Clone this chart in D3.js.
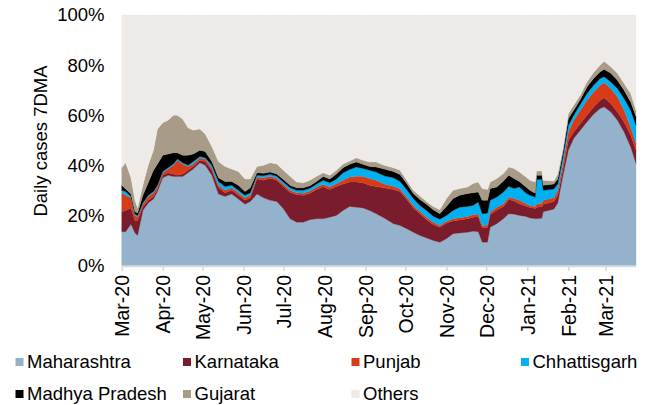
<!DOCTYPE html>
<html>
<head>
<meta charset="utf-8">
<script src="https://cdn.jsdelivr.net/npm/d3@7"></script>
<style>
    body { margin: 0; background: #fff; }
    text { font-family: "Liberation Sans", Arial, sans-serif; fill: #000; }
</style>
</head>
<body>
<svg id="chart" width="657" height="405"></svg>
<script>
// share of daily cases (7DMA), % of India total
let dates = ['2020-03-01', '2020-03-04', '2020-03-08', '2020-03-11', '2020-03-13', '2020-03-17', '2020-03-21', '2020-03-25',
    '2020-03-28', '2020-04-01', '2020-04-05', '2020-04-09', '2020-04-12', '2020-04-16', '2020-04-20', '2020-04-24',
    '2020-04-29', '2020-05-03', '2020-05-08', '2020-05-13', '2020-05-18', '2020-05-23', '2020-05-28', '2020-06-02',
    '2020-06-06', '2020-06-11', '2020-06-16', '2020-06-21', '2020-06-26', '2020-07-01', '2020-07-06', '2020-07-11',
    '2020-07-16', '2020-07-21', '2020-07-26', '2020-07-31', '2020-08-05', '2020-08-10', '2020-08-15', '2020-08-20',
    '2020-08-25', '2020-08-30', '2020-09-04', '2020-09-09', '2020-09-15', '2020-09-22', '2020-09-27', '2020-10-02',
    '2020-10-07', '2020-10-12', '2020-10-17', '2020-10-22', '2020-10-27', '2020-11-01', '2020-11-06', '2020-11-11',
    '2020-11-17', '2020-11-21', '2020-11-25', '2020-11-28', '2020-12-02', '2020-12-04', '2020-12-09', '2020-12-14',
    '2020-12-18', '2020-12-22', '2020-12-26', '2020-12-31', '2021-01-03', '2021-01-07', '2021-01-08', '2021-01-12',
    '2021-01-13', '2021-01-21', '2021-01-24', '2021-01-28', '2021-02-01', '2021-02-05', '2021-02-10', '2021-02-15',
    '2021-02-20', '2021-02-25', '2021-02-28', '2021-03-05', '2021-03-10', '2021-03-15', '2021-03-20', '2021-03-24'];

let maharashtra = [13.5, 13.5, 16.5, 13, 12, 22, 25, 26.5, 29.5, 35, 36, 35.5, 35.5, 35.5, 37, 38.5,
    41, 40, 36, 28.5, 27.5, 28.5, 26.5, 24.5, 25.5, 28.5, 27, 26, 25.5, 22.7, 18.7, 17.3,
    17.3, 18.3, 18.7, 18.7, 19.3, 20, 22, 23.6, 23.3, 23, 22, 20.7, 19, 16.7, 16, 14.7,
    13.3, 12, 11, 10, 9.3, 10.7, 12.7, 13, 13.3, 13.7, 13.5, 9.3, 9.3, 15.3, 16.7, 18.7,
    20.7, 20.5, 20, 19.6, 19, 18.7, 18.7, 18.9, 21.5, 22.5, 25, 36, 46, 50.7, 54, 57.3,
    60.4, 62.7, 63.3, 61.3, 58, 53.3, 47.3, 40.7];
let karnataka = [8, 8.5, 6.5, 5, 6, 1.5, 1, 1, 1, 1, 1, 1, 0.5, 1, 1, 1,
    1, 1.5, 2, 2.5, 1.5, 1.5, 1.5, 1.5, 1.5, 6, 7, 8.8, 8.5, 8.8, 10.5, 10.9,
    10.7, 10.5, 11.6, 12.7, 11, 11.5, 10.5, 9.7, 10, 10, 10, 10.8, 12, 13.6, 13.5, 11.7,
    9.7, 8.7, 7.3, 6.4, 6, 6.3, 5.1, 5.2, 5.4, 5.6, 6, 5.7, 6, 5.1, 5.5, 4.9,
    5.6, 5.2, 4.7, 4.1, 4.2, 4.1, 4.6, 4.6, 3, 3, 3, 2.5, 4, 2.6, 2.7, 2.7,
    2.9, 3.3, 3.7, 3.4, 3.3, 4, 4.7, 5.3];
let punjab = [7.5, 6, 4, 2, 1.5, 1, 1.5, 1.5, 1, 1, 1.5, 3.5, 6, 4, 1.5, 1,
    1, 1, 1, 1, 1, 1, 1, 1, 1, 0.8, 1, 0.8, 0.8, 0.9, 0.8, 0.8,
    0.8, 0.9, 1, 1, 1, 1.2, 1.5, 2, 2.3, 2.6, 2.7, 2.5, 1.5, 1.3, 1, 0.9,
    1, 0.9, 1, 0.9, 0.7, 0.7, 0.9, 0.9, 0.9, 1, 1.1, 1, 0.9, 1, 1.1, 1,
    1, 1, 1.3, 1, 0.8, 0.8, 1.4, 1.4, 1.5, 1.5, 2, 2.5, 3.3, 4.7, 5.3, 6,
    6, 6, 6, 6, 6, 4.7, 3.3, 2.7];
let chhattisgarh = [1, 1.5, 0.5, 0.5, 0.5, 0.5, 0.5, 0.5, 0.5, 0.5, 0.5, 0.5, 0.5, 0.5, 0.5, 1,
    0.5, 0.5, 1, 1.5, 1.5, 1, 1, 1, 1, 0.7, 0.8, 0.8, 0.8, 0.9, 1, 1,
    1.2, 1.1, 1.2, 1.6, 1.7, 1.8, 3, 3, 3.7, 3.1, 3.3, 3.3, 3.3, 3.4, 3, 3,
    2.7, 2.4, 2.7, 2.4, 2.5, 2.3, 3.3, 4.2, 4, 3.7, 4.7, 4.7, 4.7, 4.6, 4, 4.7,
    4.3, 4, 5.3, 4.2, 4, 3.7, 9.6, 9.4, 4, 3.5, 2.5, 2.5, 2.7, 2, 2.4, 2.7,
    2.7, 2.7, 2.3, 2.6, 3.4, 4.7, 6.7, 7.3];
let madhyaPradesh = [2, 1, 1, 1, 1, 3, 5, 8.5, 8.5, 6.5, 5.5, 4.5, 2.5, 3, 4, 3,
    2.5, 2.5, 1.5, 1.5, 2, 1.5, 2, 1.5, 2, 1, 1, 0.9, 0.9, 1, 1, 1,
    1, 1, 1, 1.5, 1.5, 2, 2, 2.1, 2, 1.7, 1.5, 2, 2.7, 2.5, 2.8, 2.4,
    2, 2.3, 2.5, 2.6, 2.2, 3.6, 4.7, 4.7, 5.1, 5, 4, 5.3, 5.1, 4.7, 4, 4.4,
    4.4, 4, 2.2, 2.4, 2, 1.5, 1.7, 1.7, 2, 2, 2, 2, 2.7, 2, 1.9, 2.6,
    2.7, 2.6, 3, 3.4, 3.3, 3.3, 3.3, 3.5];
let gujarat = [7, 10.5, 6.5, 4.5, 2, 4, 7, 8, 14, 13, 13.5, 15, 15, 14.5, 11, 9.5,
    8.5, 7, 6, 6.5, 6, 5, 5.5, 5, 3.5, 2.5, 3.2, 3.7, 4, 3.7, 3.6, 2.3,
    2, 2.2, 2.1, 1.5, 1.5, 1.5, 1.5, 1.3, 1.7, 1.6, 1.8, 2, 1.5, 1.5, 1.7, 1.3,
    1.3, 1.4, 1, 1.3, 1.6, 3.1, 3.3, 2.7, 2.6, 3.7, 4, 4.7, 4.3, 2.6, 3.4, 3,
    3.3, 4, 3.8, 4, 4, 4.5, 1.7, 1.7, 2, 1.2, 2, 1.5, 2, 2, 1.7, 2,
    2.3, 2.7, 3.2, 2.6, 2.7, 2.7, 3.4, 2.5];
let others = [61, 59, 65, 74, 77, 68, 60, 54, 45.5, 43, 42, 40, 40, 41.5, 45, 46,
    45.5, 47.5, 52.5, 58.5, 60.5, 61.5, 62.5, 65.5, 65.5, 60.5, 60, 59, 59.5, 62, 64.4, 66.7,
    67, 66, 64.4, 63, 64, 62, 59.5, 58.3, 57, 58, 58.7, 58.7, 60, 61, 62, 66,
    70, 72.3, 74.5, 76.4, 77.7, 73.3, 70, 69.3, 68.7, 67.3, 66.7, 69.3, 69.7, 66.7, 65.3, 63.3,
    60.7, 61.3, 62.7, 64.7, 66, 66.7, 62.3, 62.3, 66, 66.3, 63.5, 53, 39.3, 36, 32, 26.7,
    23, 20, 18.5, 20.7, 23.3, 27.3, 31.3, 38];

let stateNames = ['Maharashtra', 'Karnataka', 'Punjab', 'Chhattisgarh', 'Madhya Pradesh', 'Gujarat', 'Others'];
let stateColors = ['#94b2cc', '#7a1c2b', '#d83b17', '#00b0f0', '#000000', '#a89b88', '#edeae7'];
let yTicks = [0, 0.2, 0.4, 0.6, 0.8, 1];

function draw_share_chart() {
    let svg = d3.select('#chart');
    let parseDate = d3.timeParse('%Y-%m-%d');
    let seriesList = [maharashtra, karnataka, punjab, chhattisgarh, madhyaPradesh, gujarat, others];

    // rows for d3.stack
    let rows = dates.map(function (d, i) {
        let row = {date: parseDate(d)};
        stateNames.forEach(function (name, k) {
            row[name] = seriesList[k][i];
        });
        return row;
    });

    let xScale = d3.scaleTime()
        .domain([parseDate('2020-03-01'), parseDate('2021-03-24')])
        .range([121.7, 636]);
    let yScale = d3.scaleLinear()
        .domain([0, 1])
        .range([265.5, 15]);

    let stack = d3.stack()
        .keys(stateNames)
        .offset(d3.stackOffsetExpand);
    let layers = stack(rows);

    let area = d3.area()
        .x(function (d) { return xScale(d.data.date); })
        .y0(function (d) { return yScale(d[0]); })
        .y1(function (d) { return yScale(d[1]); });

    svg.append('g')
        .selectAll('path')
        .data(layers)
        .enter()
        .append('path')
        .attr('d', area)
        .attr('fill', function (d, i) { return stateColors[i]; })
        .attr('stroke', function (d, i) { return stateColors[i]; })
        .attr('stroke-width', 0.3);

    // y labels, no axis line
    svg.append('g')
        .selectAll('text')
        .data(yTicks)
        .enter()
        .append('text')
        .attr('x', 104.5)
        .attr('y', function (d) { return yScale(d); })
        .attr('dy', '0.35em')
        .attr('text-anchor', 'end')
        .style('font-size', '18.5px')
        .text(d3.format('.0%'));

    svg.append('text')
        .attr('transform', 'translate(41,141) rotate(-90)')
        .attr('text-anchor', 'middle')
        .attr('dy', '0.35em')
        .style('font-size', '18.5px')
        .text('Daily cases 7DMA');

    // month axis
    let monthTicks = d3.timeMonth.range(parseDate('2020-03-01'), parseDate('2021-03-02'));
    let xAxis = svg.append('g')
        .attr('transform', 'translate(0,266)')
        .call(d3.axisBottom(xScale)
            .tickValues(monthTicks)
            .tickFormat(d3.timeFormat('%b-%y'))
            .tickSize(5)
            .tickSizeOuter(0));
    xAxis.select('.domain').attr('stroke', '#d9d9d9').attr('stroke-width', 1.5);
    xAxis.selectAll('.tick line').attr('stroke', '#d9d9d9').attr('stroke-width', 1.5);
    xAxis.selectAll('.tick text')
        .attr('transform', 'rotate(-90)')
        .attr('text-anchor', 'end')
        .attr('x', -9)
        .attr('y', 0)
        .attr('dy', '0.35em')
        .style('font-size', '19.5px')
        .style('font-family', '"Liberation Sans", Arial, sans-serif')
        .attr('fill', '#000');

    // legend, 4 columns x 2 rows
    let colX = [15.5, 183, 351.5, 521],
        rowY = [362, 394];
    let legend = svg.append('g')
        .selectAll('g')
        .data(stateNames)
        .enter()
        .append('g')
        .attr('transform', function (d, i) {
            return 'translate(' + colX[i % 4] + ',' + rowY[Math.floor(i / 4)] + ')';
        });
    legend.append('rect')
        .attr('x', 0)
        .attr('y', -4)
        .attr('width', 8)
        .attr('height', 8)
        .attr('fill', function (d, i) { return stateColors[i]; });
    legend.append('text')
        .attr('x', 11.5)
        .attr('dy', '0.35em')
        .style('font-size', '18.5px')
        .text(function (d) { return d; });
}

draw_share_chart();
</script>
</body>
</html>
